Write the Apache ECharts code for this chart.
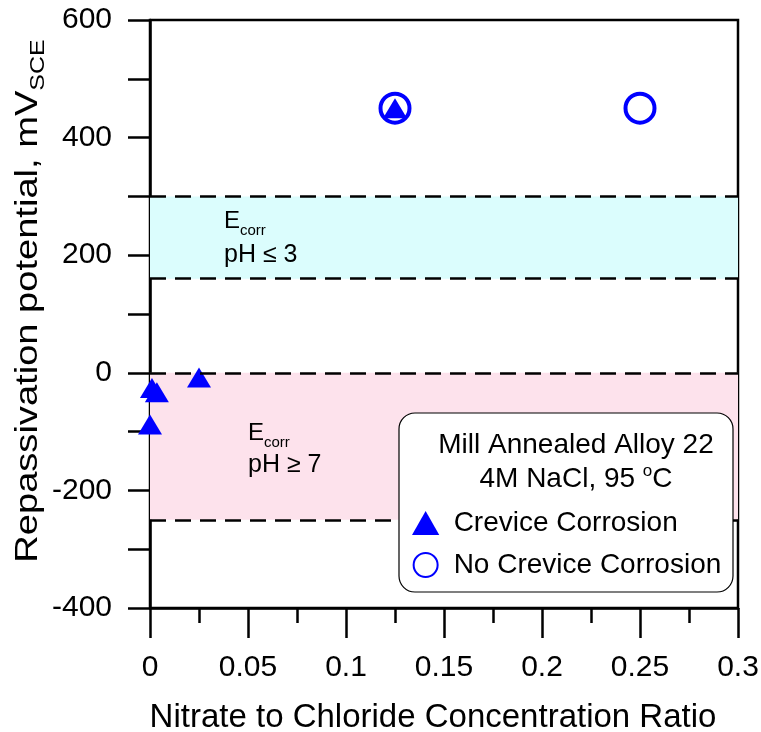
<!DOCTYPE html>
<html><head><meta charset="utf-8">
<script src="https://cdn.jsdelivr.net/npm/echarts@6/dist/echarts.min.js"></script>
<style>html,body{margin:0;padding:0;background:#fff}#c{width:761px;height:732px}</style>
</head><body><div id="c"></div>
<script>
// ---- data ----
const xRange = [0, 0.3];
const xInterval = 0.05;
const yRange = [-400, 600];
const yInterval = 200;
const creviceX = [0.001, 0.0035, 0, 0.025, 0.125];
const creviceY = [-26, -33, -88, -8, 450];
const noCreviceX = [0.125, 0.25];
const noCreviceY = [450, 450];
const bandAcid = [160, 300];     // Ecorr pH <= 3
const bandNeutral = [-250, 0];   // Ecorr pH >= 7
const seriesNames = ['Crevice Corrosion', 'No Crevice Corrosion'];

const FONT = 'Liberation Sans, Arial, sans-serif';
const chart = echarts.init(document.getElementById('c'));
const blue = '#0000ff';
const dash = [16, 9];
const ecorrRich = {
  e: {fontSize: 24, fontFamily: FONT, fill: '#000', lineHeight: 34},
  s: {fontSize: 15, fontFamily: FONT, fill: '#000', verticalAlign: 'bottom', lineHeight: 34}
};

chart.setOption({
  animation: false,
  grid: {left: 150, top: 20, right: 23, bottom: 124, outerBoundsMode: 'none', containLabel: false,
    show: true, borderColor: '#000', borderWidth: 2.5, backgroundColor: 'transparent'},
  xAxis: {
    type: 'value', min: xRange[0], max: xRange[1], interval: xInterval,
    name: 'Nitrate to Chloride Concentration Ratio', nameLocation: 'middle', nameGap: 93,
    nameTextStyle: {fontSize: 33, color: '#000', fontFamily: FONT, padding: [0, 22, 0, 0]},
    axisLine: {onZero: false, lineStyle: {color: '#000', width: 2.5}},
    axisTick: {length: 30, lineStyle: {color: '#000', width: 2.5}},
    minorTick: {show: true, splitNumber: 2, length: 15, lineStyle: {color: '#000', width: 2.5}},
    splitLine: {show: false},
    axisLabel: {fontSize: 30, color: '#000', fontFamily: FONT, margin: 45}
  },
  yAxis: {
    type: 'value', min: yRange[0], max: yRange[1], interval: yInterval,
    axisLine: {show: true, onZero: false, lineStyle: {color: '#000', width: 2.5}},
    axisTick: {show: true, length: 22, lineStyle: {color: '#000', width: 2.5}},
    minorTick: {show: true, splitNumber: 2, length: 22, lineStyle: {color: '#000', width: 2.5}},
    splitLine: {show: false},
    axisLabel: {fontSize: 30, color: '#000', fontFamily: FONT, margin: 38}
  },
  legend: {
    orient: 'vertical', left: 407, top: 504, itemWidth: 28, itemHeight: 24, itemGap: 14,
    selectedMode: false, z: 200,
    textStyle: {fontSize: 28, color: '#000', fontFamily: FONT, padding: [0, 0, 0, 9]},
    data: [{name: seriesNames[0], icon: 'path://M12.5,0L25,22L0,22Z'}, {name: seriesNames[1], icon: 'circle'}]
  },
  series: [
    {
      name: seriesNames[1], type: 'scatter', symbol: 'circle', symbolSize: 29, z: 3,
      itemStyle: {color: 'rgba(255,255,255,0)', borderColor: blue, borderWidth: 4, opacity: 1},
      data: noCreviceX.map((x, i) => [x, noCreviceY[i]])
    },
    {
      name: seriesNames[0], type: 'scatter', symbol: 'triangle', symbolSize: [24, 20], z: 4,
      itemStyle: {color: blue, opacity: 1},
      data: creviceX.map((x, i) => [x, creviceY[i]]),
      markArea: {
        silent: true,
        data: [
          [{coord: [xRange[0], bandAcid[0]], itemStyle: {color: '#dbfdfd'}}, {coord: [xRange[1], bandAcid[1]]}],
          [{coord: [xRange[0], bandNeutral[0]], itemStyle: {color: '#fde2ec'}}, {coord: [xRange[1], bandNeutral[1]]}]
        ]
      },
      markLine: {
        silent: true, symbol: 'none', label: {show: false},
        lineStyle: {color: '#000', width: 2.5, type: dash},
        data: [{yAxis: bandAcid[1]}, {yAxis: bandAcid[0]}, {yAxis: bandNeutral[1]}, {yAxis: bandNeutral[0]}]
      }
    }
  ],
  graphic: [
    {type: 'text', x: 28, y: 301, rotation: Math.PI / 2, scaleX: 1.19, z: 50,
      style: {text: '{a|Repassivation potential, mV}{b|SCE}', align: 'center', verticalAlign: 'middle',
        rich: {a: {fontSize: 32, fontFamily: FONT, fill: '#000', lineHeight: 42},
               b: {fontSize: 21, fontFamily: FONT, fill: '#000', verticalAlign: 'bottom', lineHeight: 42}}}},
    {type: 'text', x: 224, y: 221, z: 50, style: {text: '{e|E}{s|corr}', verticalAlign: 'middle', rich: ecorrRich}},
    {type: 'text', x: 224, y: 255, z: 50,
      style: {text: 'pH \u2264 3', verticalAlign: 'middle', font: '25px ' + FONT, fill: '#000'}},
    {type: 'text', x: 248, y: 433, z: 50, style: {text: '{e|E}{s|corr}', verticalAlign: 'middle', rich: ecorrRich}},
    {type: 'text', x: 248, y: 465, z: 50,
      style: {text: 'pH \u2265 7', verticalAlign: 'middle', font: '25px ' + FONT, fill: '#000'}},
    {type: 'rect', z: 100, shape: {x: 399, y: 413, width: 334, height: 179, r: 16},
      style: {fill: '#fff', stroke: '#000', lineWidth: 1.2}},
    {type: 'text', x: 576, y: 445, z: 101,
      style: {text: 'Mill Annealed Alloy 22', align: 'center', verticalAlign: 'middle', font: '28px ' + FONT, fill: '#000'}},
    {type: 'text', x: 576, y: 479, z: 101,
      style: {text: '{n|4M NaCl, 95 }{o|o}{n|C}', align: 'center', verticalAlign: 'middle',
        rich: {n: {fontSize: 28, fontFamily: FONT, fill: '#000', lineHeight: 32},
               o: {fontSize: 17, fontFamily: FONT, fill: '#000', verticalAlign: 'top', lineHeight: 32}}}}
  ]
});
</script></body></html>
